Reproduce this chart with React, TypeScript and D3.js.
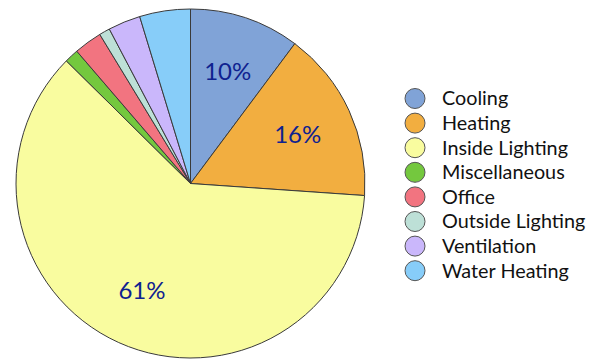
import React from "react";
import * as d3 from "d3";

const categories = ["Cooling", "Heating", "Inside Lighting", "Miscellaneous", "Office", "Outside Lighting", "Ventilation", "Water Heating"];
const values = [10.2, 15.9, 61.3, 1.3, 2.6, 1.0, 3.0, 4.7];
const labels = ["10%", "16%", "61%", "", "", "", "", ""];
const colors = ["#80a3d7", "#f2ae40", "#f9fc9f", "#74c83e", "#f27480", "#bde0d7", "#cab7fb", "#87cdf9"];

export default function App() {
  const W = 599, H = 360;
  const cx = 190.5, cy = 183.5, r = 174.5;
  const pie = d3.pie<number>().sort(null).value((d) => d)(values);
  const arc = d3.arc<d3.PieArcDatum<number>>().innerRadius(0).outerRadius(r);
  const labelArc = d3.arc<d3.PieArcDatum<number>>().innerRadius(118).outerRadius(118);
  const font = "'Lato', 'Open Sans', sans-serif";
  return (
    <svg width={W} height={H} style={{ position: "absolute", left: 0, top: 0 }}>
      <rect width={W} height={H} fill="#fff" />
      <g transform={`translate(${cx},${cy})`}>
        {pie.map((p, i) => (
          <path key={i} d={arc(p) || ""} fill={colors[i]} stroke="#3a3a3a" strokeWidth={1} strokeLinejoin="round" />
        ))}
        {pie.map((p, i) => {
          if (!labels[i]) return null;
          const [x, y] = labelArc.centroid(p);
          return (
            <text key={"l" + i} x={x} y={y} dy="0.35em" textAnchor="middle" fill="#0f228f" fontFamily={font} fontSize={24}>
              {labels[i]}
            </text>
          );
        })}
      </g>
      <g>
        {categories.map((c, i) => {
          const y = 98.5 + i * 24.6;
          return (
            <g key={c}>
              <circle cx={415} cy={y} r={10} fill={colors[i]} stroke="#555" strokeWidth={1} />
              <text x={442} y={y} dy="0.35em" fontFamily={font} fontSize={19.8} fill="#111">
                {c}
              </text>
            </g>
          );
        })}
      </g>
    </svg>
  );
}
